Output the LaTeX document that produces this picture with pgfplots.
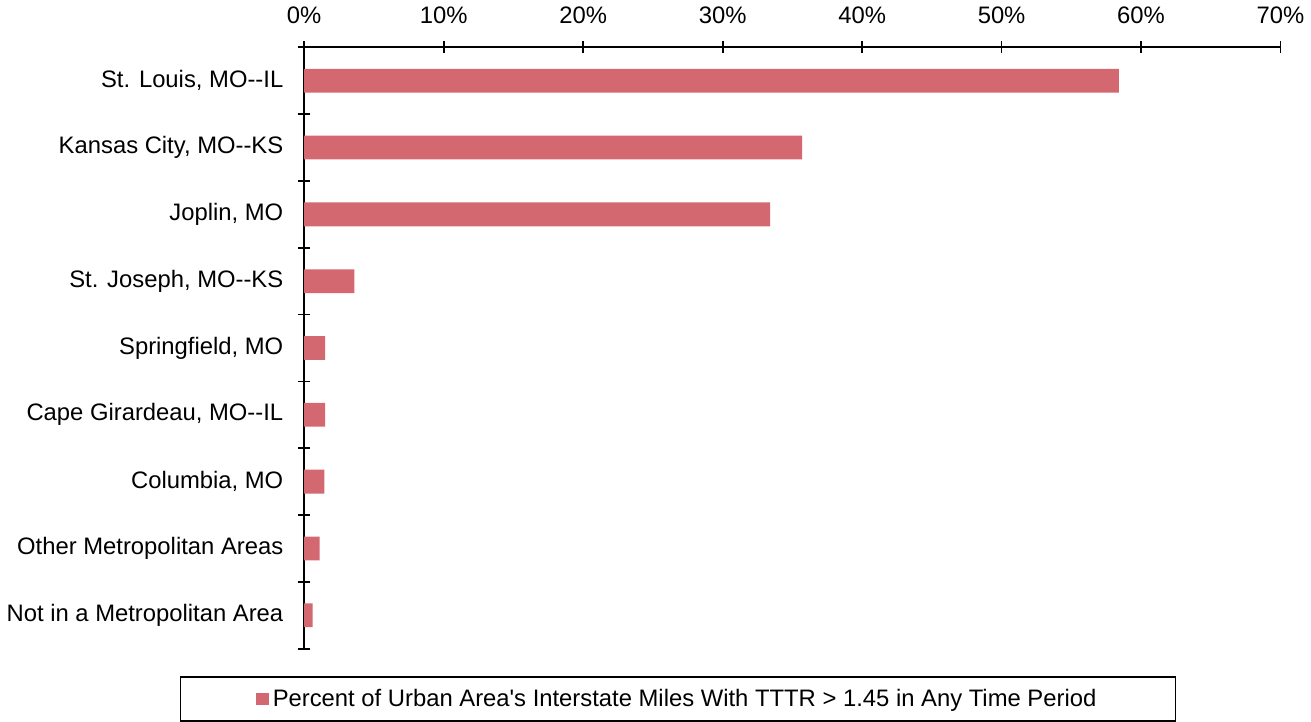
\documentclass[border=0pt]{standalone}
\usepackage{pgfplots}
\pgfplotsset{compat=1.18}
\usepackage{fontspec}
\setmainfont{Liberation Sans}
\definecolor{barred}{RGB}{212,104,112}
\begin{document}
\begin{tikzpicture}
\begin{axis}[
  scale only axis,
  width=492pt, height=303pt,
  xbar, bar width=12pt,
  xmin=0, xmax=70,
  ymin=-0.5, ymax=8.5,
  axis x line*=top,
  axis y line*=left,
  axis line style={-, black, line width=0.9pt},
  xtick={0,10,...,70},
  xticklabels={0\%,10\%,20\%,30\%,40\%,50\%,60\%,70\%},
  ytick={-0.5,0.5,...,8.5},
  yticklabels={},
  extra y ticks={0,...,8},
  extra y tick labels={Not in a Metropolitan Area,Other Metropolitan Areas,{Columbia, MO},{Cape Girardeau, MO{-}{-}IL},{Springfield, MO},{St. Joseph, MO{-}{-}KS},{Joplin, MO},{Kansas City, MO{-}{-}KS},{St. Louis, MO{-}{-}IL}},
  extra y tick style={major tick length=0pt, tick style={draw=none}},
  tick align=center,
  major tick length=6pt,
  tick style={black, line width=0.9pt},
  tick label style={font=\fontsize{12}{14}\selectfont},
  yticklabel style={xshift=-7pt},
  xticklabel style={yshift=5.5pt},
  legend style={at={(0.383,-0.046)}, anchor=north, draw=black, line width=0.6pt,
    inner xsep=38pt, inner ysep=4pt, font=\fontsize{12}{14}\selectfont},
  legend image code/.code={\fill[#1] (0pt,-3.2pt) rectangle (6.5pt,3.2pt);},
]
\addplot[fill=barred, draw=none] coordinates {
  (0.6,0) (1.1,1) (1.45,2) (1.5,3) (1.5,4) (3.6,5) (33.4,6) (35.7,7) (58.4,8)
};
\legend{Percent of Urban Area\textquotesingle s Interstate Miles With TTTR > 1.45 in Any Time Period}
\end{axis}
\end{tikzpicture}
\end{document}
